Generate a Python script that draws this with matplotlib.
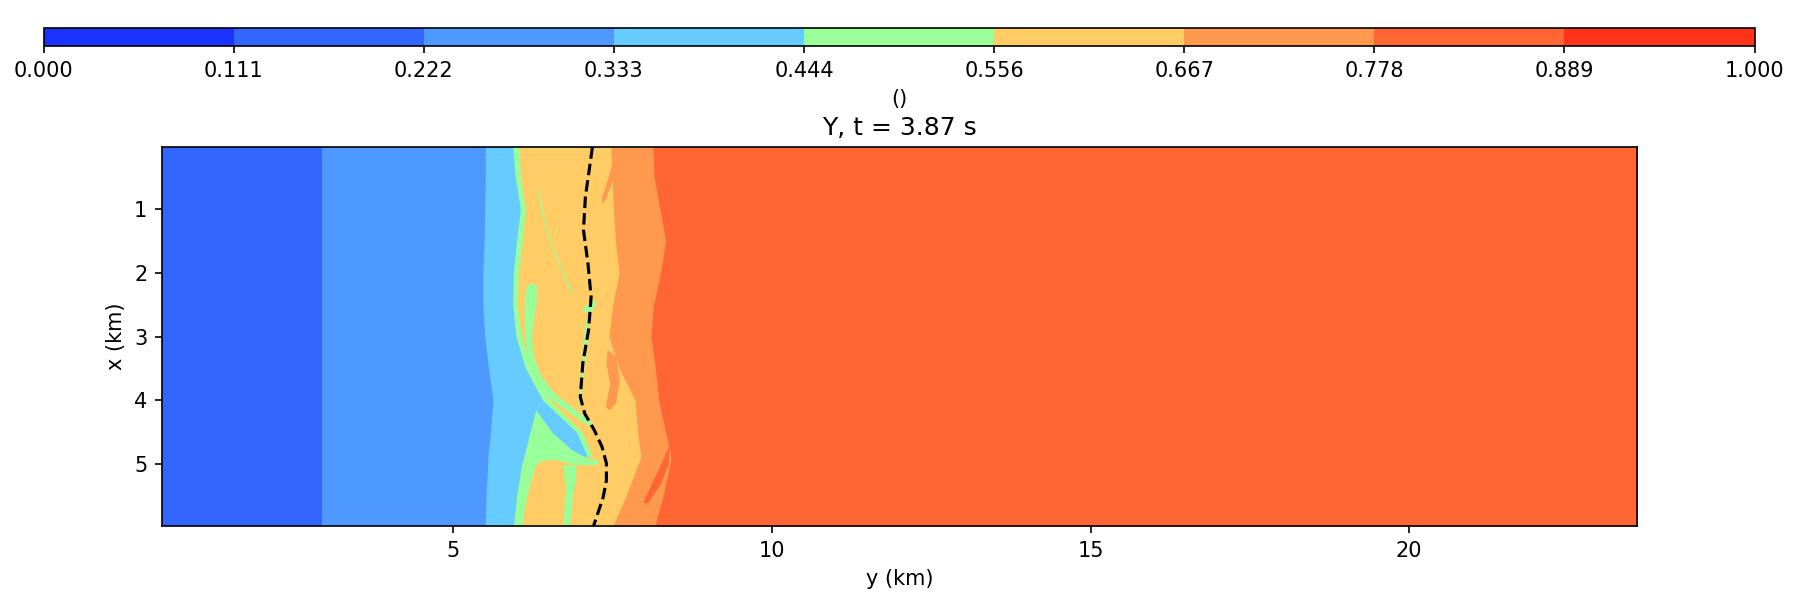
import numpy as np
import matplotlib
matplotlib.use("Agg")
import matplotlib.pyplot as plt
from matplotlib.colors import ListedColormap, BoundaryNorm
from matplotlib.cm import ScalarMappable

# niveles de la barra de color (9 clases entre 0 y 1)
levels = [0/9, 1/9, 2/9, 3/9, 4/9, 5/9, 6/9, 7/9, 8/9, 9/9]
colors = ["#1a33ff", "#3366ff", "#4d99ff", "#66ccff", "#99ff99",
          "#ffcc66", "#ff994d", "#ff6633", "#ff331a"]

# dominio (km)
y_min, y_max = 0.425, 23.575
x_min, x_max = 0.025, 5.975

# filas donde se leyeron los frentes (x en km)
x_rows = [0.025, 0.5, 1.0, 1.5, 2.0, 2.5, 3.0, 3.5, 4.0, 4.5, 4.88, 4.95, 5.5, 5.975]
# posicion y (km) de cada frente entre clases
edge_12 = 2.93
edge_23 = [5.50, 5.50, 5.49, 5.48, 5.46, 5.46, 5.49, 5.55, 5.62, 5.58, 5.54, 5.54, 5.51, 5.50]
edge_34 = [5.93, 5.97, 6.05, 5.99, 5.94, 5.93, 5.98, 6.13, 6.40, 6.93, 7.10, 6.08, 5.99, 5.94]
edge_45 = [6.03, 6.05, 6.13, 6.08, 6.02, 6.00, 6.07, 6.22, 6.51, 7.02, 7.18, 6.30, 6.15, 6.06]
edge_56 = [7.47, 7.49, 7.51, 7.54, 7.60, 7.50, 7.44, 7.60, 7.85, 7.89, 7.94, 7.92, 7.71, 7.50]
edge_67 = [8.13, 8.15, 8.24, 8.33, 8.25, 8.14, 8.10, 8.17, 8.22, 8.33, 8.41, 8.41, 8.29, 8.16]
band_values = [0.17, 0.28, 0.39, 0.50, 0.61, 0.72, 0.83]

# manchas sueltas (y, x en km)
wedge_y = [6.30, 6.56, 6.87, 7.11, 7.29, 7.24, 6.98, 6.77, 6.56, 6.35, 6.22, 6.15, 6.12, 6.09, 5.96, 6.01, 6.09, 6.19]
wedge_x = [4.16, 4.52, 4.79, 4.92, 4.95, 5.02, 5.02, 4.98, 4.93, 4.97, 5.13, 5.36, 5.62, 5.975, 5.975, 5.52, 4.99, 4.58]
finger_y = [6.15, 6.22, 6.31, 6.31, 6.27, 6.23, 6.26, 6.38, 6.59, 6.85, 7.08, 7.19, 7.15, 7.03, 6.80, 6.53, 6.31, 6.18, 6.13, 6.12, 6.12]
finger_x = [2.22, 2.16, 2.21, 2.43, 2.69, 3.01, 3.32, 3.63, 3.90, 4.10, 4.29, 4.37, 4.41, 4.35, 4.18, 3.99, 3.74, 3.42, 3.06, 2.69, 2.38]
stalk_y = [6.73, 6.93, 6.92, 6.87, 6.85, 6.82, 6.73, 6.74, 6.77, 6.73]
stalk_x = [5.02, 5.02, 5.26, 5.52, 5.83, 5.975, 5.975, 5.67, 5.36, 5.15]
streak_y = [6.34, 6.45, 6.60, 6.76, 6.86, 6.84, 6.74, 6.58, 6.43, 6.32]
streak_x = [0.70, 1.23, 1.70, 2.06, 2.30, 2.31, 2.06, 1.70, 1.23, 0.70]
gdash_y = [7.09, 7.13, 7.08, 7.03, 7.00, 6.97, 6.99, 7.03, 7.06]
gdash_x = [2.69, 2.90, 3.32, 3.74, 4.10, 4.10, 3.74, 3.32, 2.90]
gblob_y = [7.02, 7.16, 7.24, 7.20, 7.08]
gblob_x = [2.56, 2.46, 2.43, 2.59, 2.63]
orange1_y = [7.55, 7.60, 7.50, 7.40, 7.35, 7.32, 7.42, 7.51]
orange1_x = [0.18, 0.23, 0.55, 0.83, 0.91, 0.86, 0.55, 0.26]
orange2_y = [7.42, 7.55, 7.61, 7.55, 7.45, 7.39, 7.46, 7.40]
orange2_x = [3.21, 3.32, 3.69, 4.05, 4.16, 4.10, 3.74, 3.42]
red_y = [8.39, 8.38, 8.26, 8.05, 7.98, 8.13, 8.28]
red_x = [4.71, 4.99, 5.31, 5.62, 5.61, 5.28, 4.97]

# linea discontinua
dash_x = [0.03, 0.81, 1.33, 1.85, 2.38, 2.90, 3.42, 3.95, 4.21, 4.47, 4.73, 4.99, 5.26, 5.52, 5.97]
dash_y = [7.18, 7.07, 7.04, 7.11, 7.16, 7.12, 7.03, 6.99, 7.06, 7.21, 7.33, 7.40, 7.40, 7.35, 7.20]

cmap = ListedColormap(colors)
norm = BoundaryNorm(levels, cmap.N)

fig = plt.figure(figsize=(12, 4), dpi=150)
ax = fig.add_axes([162/1800, 1 - 526/600, 1475/1800, 379/600])
cax = fig.add_axes([43.6/1800, 1 - 46/600, 1711/1800, 18.5/600])

# bandas, de izquierda a derecha (cada una tapa hasta el borde derecho)
lefts = [y_min, edge_12, edge_23, edge_34, edge_45, edge_56, edge_67]
for left, val in zip(lefts, band_values):
    ax.fill_betweenx(x_rows, left, y_max, color=cmap(norm(val)), lw=0)

green = cmap(norm(0.50))
for ys, xs in [(wedge_y, wedge_x), (finger_y, finger_x), (stalk_y, stalk_x),
               (streak_y, streak_x), (gdash_y, gdash_x), (gblob_y, gblob_x)]:
    ax.fill(ys, xs, color=green, lw=0)
for ys, xs in [(orange1_y, orange1_x), (orange2_y, orange2_x)]:
    ax.fill(ys, xs, color=cmap(norm(0.72)), lw=0)
ax.fill(red_y, red_x, color=cmap(norm(0.83)), lw=0)

ax.plot(dash_y, dash_x, "k--", lw=1.5)

ax.set_xlim(y_min, y_max)
ax.set_ylim(x_max, x_min)
ax.set_xticks([5, 10, 15, 20])
ax.set_yticks([1, 2, 3, 4, 5])
ax.set_xlabel("y (km)")
ax.set_ylabel("x (km)")
ax.set_title("Y, t = 3.87 s")

cb = fig.colorbar(ScalarMappable(norm=norm, cmap=cmap), cax=cax,
                  orientation="horizontal", ticks=levels, format="%.3f")
cb.set_label("()")

fig.savefig("out.png", dpi=150)
